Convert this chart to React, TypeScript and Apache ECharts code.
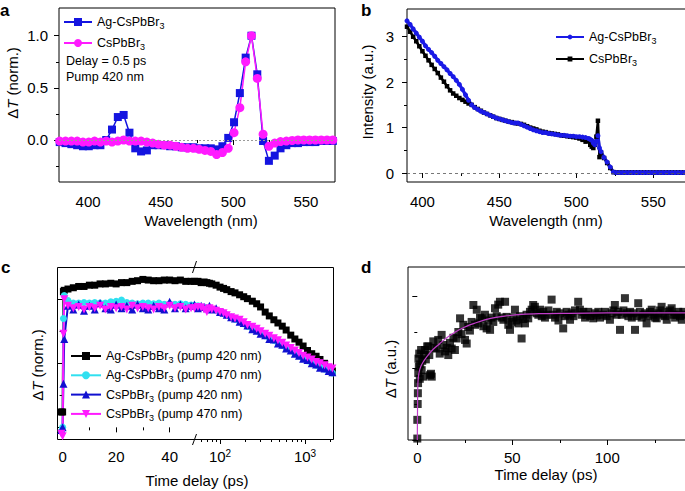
import { useEffect, useRef } from 'react';
import * as echarts from 'echarts';

const FONT = '"Liberation Sans", Arial, Helvetica, sans-serif';

// ---------- Panel a ----------
const aWavelength = [380.5, 384.5, 388.5, 392.5, 396.5, 400.5, 404.5, 408.5, 412.5, 416.5, 420.5, 424.5,
  428.5, 432.5, 436.5, 440.5, 444.5, 448.5, 452.5, 456.5, 460.5, 464.5, 468.5, 472.5,
  476.5, 480.5, 484.5, 488.5, 492.5, 496.5, 500.5, 504.5, 508.5, 512.5, 516.5, 520.5,
  524.5, 528.5, 532.5, 536.5, 540.5, 544.5, 548.5, 552.5, 556.5, 560.5, 564.5, 568.5];
const aAg = [-0.02, -0.03, -0.04, -0.05, -0.06, -0.06, -0.05, -0.05, 0.0, 0.10, 0.22, 0.24,
  0.07, -0.08, -0.11, -0.10, -0.05, -0.05, -0.05, -0.06, -0.06, -0.07, -0.07, -0.07,
  -0.08, -0.08, -0.08, -0.09, -0.06, 0.02, 0.17, 0.45, 0.79, 1.0, 0.63, -0.01,
  -0.20, -0.15, -0.08, -0.05, -0.03, -0.03, -0.02, -0.02, -0.02, -0.01, -0.01, -0.01];
const aCs = [-0.01, -0.01, -0.01, -0.01, -0.02, -0.02, -0.01, -0.02, -0.01, -0.02, -0.01, 0.0,
  -0.01, -0.01, -0.01, -0.02, -0.03, -0.04, -0.05, -0.05, -0.06, -0.07, -0.08, -0.08,
  -0.09, -0.10, -0.11, -0.14, -0.12, -0.08, 0.07, 0.31, 0.75, 1.0, 0.59, 0.055,
  -0.06, -0.03, -0.015, -0.01, -0.005, 0, 0, 0, 0, 0, 0, 0];
const aXTicks = [400, 450, 500, 550];
const aXMinor = [425, 475, 525];
const aYTicks = [0, 0.5, 1.0];
const aYMinor = [-0.25, 0.25, 0.75];

// ---------- Panel b ----------
const bWavelength = [390, 392, 394, 396, 398, 400, 402, 404, 406, 408,
  410, 412, 414, 416, 418, 420, 422, 424, 426, 428,
  430, 432, 434, 436, 438, 440, 442, 444, 446, 448,
  450, 452, 454, 456, 458, 460, 462, 464, 466, 468,
  470, 472, 474, 476, 478, 480, 482, 484, 486, 488,
  490, 492, 494, 496, 498, 500, 502, 504, 506, 508,
  509, 510, 511, 512, 513, 514, 515, 516,
  518, 520, 522, 524, 526, 528, 530, 532, 534, 536, 538, 540, 542, 544, 546, 548,
  550, 552, 554, 556, 558, 560, 562, 564, 566, 568, 570];
const bAg = [3.35, 3.27, 3.17, 3.08, 2.99, 2.90, 2.80, 2.72, 2.65, 2.57,
  2.48, 2.41, 2.34, 2.27, 2.19, 2.12, 2.04, 1.95, 1.84, 1.72,
  1.60, 1.50, 1.44, 1.40, 1.36, 1.33, 1.30, 1.27, 1.24, 1.21,
  1.19, 1.17, 1.15, 1.13, 1.11, 1.10, 1.10, 1.07, 1.04, 1.01,
  0.98, 0.95, 0.93, 0.91, 0.89, 0.89, 0.87, 0.86, 0.85, 0.84,
  0.83, 0.83, 0.82, 0.81, 0.81, 0.80, 0.80, 0.79, 0.78, 0.76,
  0.74, 0.72, 0.66, 0.62, 0.70, 0.82, 0.55, 0.47,
  0.34, 0.24, 0.13, 0.02, 0.01, 0.01, 0.01, 0.01, 0.01, 0.01, 0.01, 0.01, 0.01, 0.01, 0.01, 0.01,
  0.01, 0.01, 0.01, 0.01, 0.01, 0.01, 0.01, 0.01, 0.01, 0.01, 0.01];
const bCs = [3.22, 3.11, 3.00, 2.90, 2.79, 2.68, 2.58, 2.48, 2.38, 2.29,
  2.20, 2.10, 2.01, 1.91, 1.82, 1.75, 1.70, 1.65, 1.61, 1.57,
  1.53, 1.50, 1.45, 1.41, 1.37, 1.33, 1.30, 1.27, 1.24, 1.21,
  1.19, 1.17, 1.15, 1.13, 1.12, 1.10, 1.09, 1.08, 1.06, 1.03,
  1.00, 0.98, 0.96, 0.93, 0.91, 0.90, 0.88, 0.87, 0.86, 0.85,
  0.83, 0.82, 0.81, 0.80, 0.79, 0.78, 0.76, 0.73, 0.69, 0.71,
  0.62, 0.58, 0.55, 0.62, 0.80, 1.15, 0.35, 0.45,
  0.33, 0.22, 0.11, 0.02, 0.01, 0.01, 0.01, 0.01, 0.01, 0.01, 0.01, 0.01, 0.01, 0.01, 0.01, 0.01,
  0.01, 0.01, 0.01, 0.01, 0.01, 0.01, 0.01, 0.01, 0.01, 0.01, 0.01];
const bXTicks = [400, 450, 500, 550];
const bXMinor = [425, 475, 525];
const bYTicks = [0, 1, 2, 3];
const bYMinor = [0.5, 1.5, 2.5];

// ---------- Panel c ----------
const cLinTime = [-0.5, 0, 0.3, 0.6, 2, 4, 6, 8, 10, 12, 14, 16, 18, 20, 22, 24, 26, 28, 30, 32, 34, 36, 38, 40, 42, 44, 46, 48];
const cAg420Lin = [0.12, 0.12, 1.06, 1.07, 1.08, 1.09, 1.10, 1.10, 1.11, 1.11, 1.12, 1.12, 1.125, 1.12, 1.13, 1.13, 1.14, 1.145, 1.155, 1.15, 1.145, 1.145, 1.15, 1.15, 1.145, 1.15, 1.14, 1.14];
const cAg470Lin = [-0.03, 0.0, 0.85, 1.03, 0.99, 0.97, 0.97, 0.975, 0.97, 0.975, 0.97, 0.97, 0.98, 0.985, 0.995, 0.975, 0.97, 0.965, 0.97, 0.97, 0.965, 0.97, 0.96, 0.965, 0.96, 0.965, 0.96, 0.955];
const cCs420Lin = [-0.02, 0.0, 0.34, 0.69, 0.95, 0.92, 0.96, 0.91, 0.95, 0.92, 0.97, 0.93, 0.92, 0.96, 0.93, 0.95, 0.92, 0.96, 0.93, 0.92, 0.95, 0.93, 0.92, 0.98, 0.93, 0.96, 0.93, 0.95];
const cCs470Lin = [-0.05, -0.07, 0.73, 1.0, 0.95, 0.93, 0.94, 0.92, 0.94, 0.93, 0.95, 0.92, 0.94, 0.93, 0.94, 0.92, 0.95, 0.93, 0.94, 0.93, 0.92, 0.94, 0.93, 0.95, 0.93, 0.94, 0.92, 0.93];
const cLogTime = [50, 55, 60, 65, 70, 75, 80, 90, 100, 110, 120, 135, 150, 170, 190, 210, 240, 270, 300, 340,
  380, 430, 480, 540, 600, 680, 760, 850, 950, 1070, 1200, 1350, 1500, 1700, 1900, 2100];
const cAg420Log = [1.14, 1.14, 1.13, 1.135, 1.13, 1.125, 1.12, 1.11, 1.095, 1.085, 1.075, 1.06, 1.05, 1.035, 1.02, 1.005, 0.985, 0.965, 0.94, 0.90,
  0.87, 0.84, 0.815, 0.79, 0.76, 0.72, 0.69, 0.665, 0.635, 0.60, 0.575, 0.555, 0.53, 0.50, 0.465, 0.44];
const cAg470Log = [0.95, 0.95, 0.94, 0.94, 0.93, 0.93, 0.92, 0.915, 0.905, 0.89, 0.875, 0.86, 0.845, 0.83, 0.81, 0.79, 0.77, 0.755, 0.735, 0.715,
  0.70, 0.68, 0.66, 0.64, 0.62, 0.60, 0.58, 0.56, 0.54, 0.52, 0.50, 0.485, 0.47, 0.455, 0.44, 0.425];
const cCs420Log = [0.96, 0.93, 0.95, 0.94, 0.93, 0.95, 0.92, 0.93, 0.90, 0.895, 0.88, 0.86, 0.85, 0.825, 0.815, 0.795, 0.765, 0.755, 0.73, 0.72,
  0.69, 0.685, 0.655, 0.645, 0.615, 0.60, 0.575, 0.56, 0.535, 0.525, 0.50, 0.49, 0.465, 0.46, 0.44, 0.43];
const cCs470Log = [0.93, 0.94, 0.935, 0.92, 0.90, 0.93, 0.92, 0.91, 0.90, 0.89, 0.875, 0.86, 0.85, 0.84, 0.82, 0.80, 0.785, 0.77, 0.75, 0.73,
  0.715, 0.695, 0.68, 0.66, 0.64, 0.62, 0.60, 0.58, 0.56, 0.545, 0.53, 0.51, 0.50, 0.485, 0.47, 0.46];
const cLinTicks = [0, 20, 40];
const cLinMinor = [10, 30];
const cLogTicks = [100, 1000];
const cLogMinor = [60, 70, 80, 90, 200, 300, 400, 500, 600, 700, 800, 900, 2000];
const cYTicks = [0, 0.5, 1.0];
const cYMinor = [0.25, 0.75];

// ---------- Panel d ----------
const dScatter: [number, number][] = [
  [0, 0.02], [0, 0.28], [0.2, 0.5], [0.3, 0.65], [0.4, 0.79], [0.5, 0.93], [0.6, 1.13], [0.8, 1.02], [1, 1.2], [1.3, 0.85],
  [1.5, 1.05], [2, 1.25], [2.3, 0.97], [2.6, 1.1], [3.2, 0.88], [3.5, 1.18], [4, 1.25], [4.5, 1.12], [5.2, 1.3], [5.8, 1.3],
  [6.3, 1.18], [6.7, 0.9], [7.2, 0.92], [7.6, 0.88], [8.4, 1.37], [9, 1.28], [10.2, 1.27], [11, 1.39], [11.8, 1.2], [12.8, 1.46],
  [13.7, 1.32], [14.6, 1.23], [15.5, 1.28], [16.3, 1.18], [17.2, 1.35], [18.1, 1.27], [19, 1.42], [19.8, 1.25], [20.7, 1.41], [21.6, 1.5],
  [22.5, 1.69], [23.3, 1.47], [24.2, 1.6], [25.1, 1.39], [26, 1.34], [26.8, 1.57], [27.7, 1.52], [28.6, 1.64], [29.5, 1.875], [30.4, 1.6],
  [31.3, 1.81], [32.1, 1.62], [33, 1.7], [33.9, 1.69], [34.8, 1.58], [35.6, 1.74], [36.5, 1.55], [37.4, 1.66], [38.3, 1.53], [39.1, 1.7],
  [40, 1.64], [40.9, 1.83], [41.8, 1.72], [42.6, 1.88], [43.5, 1.92], [44.4, 1.7], [45.3, 1.67], [46.2, 1.92], [47, 1.71], [47.9, 1.6],
  [48.8, 1.53], [49.7, 1.64], [50.6, 1.7], [51.4, 1.81], [52.3, 1.66], [53.2, 1.62], [54.1, 1.72], [54.9, 1.41], [55.8, 1.68], [56.7, 1.62],
  [57.5, 1.74], [58.4, 1.69], [59.3, 1.78], [60.2, 1.81], [61, 1.875], [61.9, 1.85], [62.8, 1.76], [63.7, 1.74], [64.6, 1.81], [65.5, 1.72],
  [66.3, 1.78], [67.2, 1.7], [68, 1.74], [69, 1.8], [70.7, 1.95], [71.6, 1.74], [72.5, 1.7], [73.4, 1.78], [74.3, 1.66], [75.2, 1.76],
  [76.8, 1.55], [77.7, 1.72], [78.6, 1.78], [79.5, 1.74], [80.4, 1.67], [81.3, 1.76], [82.2, 1.72], [83, 1.8], [84.7, 1.92], [85.6, 1.81],
  [86.5, 1.74], [87.4, 1.78], [88.3, 1.7], [89.1, 1.74], [90, 1.78], [91, 1.72], [92.6, 1.69], [93.5, 1.76], [94.4, 1.73], [95.3, 1.78],
  [96.2, 1.7], [97.9, 1.74], [98.8, 1.78], [99.7, 1.72], [101.4, 1.67], [102.3, 1.76], [103.2, 1.8], [104, 1.875], [104.9, 1.74], [105.8, 1.78],
  [106.7, 1.53], [107.6, 1.74], [108.5, 1.8], [109.3, 1.97], [110.2, 1.76], [111.1, 1.72], [112, 1.78], [112.9, 1.7], [113.8, 1.76], [114.6, 1.53],
  [115.5, 1.72], [116.3, 1.9], [117.2, 1.78], [118.1, 1.7], [119, 1.74], [119.9, 1.76], [120.7, 1.62], [121.6, 1.72], [122.5, 1.78], [123.4, 1.81],
  [124.3, 1.74], [125.2, 1.7], [126, 1.69], [126.9, 1.76], [127.8, 1.8], [128.6, 1.85], [129.5, 1.74], [130.4, 1.72], [131.3, 1.67], [132.2, 1.78],
  [133, 1.8], [133.9, 1.83], [134.8, 1.74], [135.7, 1.7], [136.5, 1.74], [137.4, 1.78], [138.3, 1.72], [139.2, 1.67], [140.1, 1.78], [141, 1.74],
];
const dFitTime = [0, 0.15, 0.3, 0.6, 1, 2, 3, 4, 6, 8, 11, 15, 20, 25, 30, 37, 46, 55, 64, 80, 100, 120, 142];
const dFitValue = [0, 0.55, 0.78, 0.88, 0.95, 1.03, 1.08, 1.12, 1.19, 1.25, 1.32, 1.41, 1.5, 1.57, 1.62, 1.68, 1.72, 1.745, 1.755, 1.76, 1.765, 1.765, 1.765];
const dXTicks = [0, 50, 100];
const dXMinor = [25, 75, 125];
const dYTicks = [0, 1, 2];
const dYMinor = [0.5, 1.5];

const zip = (xs: number[], ys: number[]) => xs.map((x, i) => [x, ys[i]]);

const tickStyle = { color: '#000', width: 1 };
const labelBase = { color: '#000', fontSize: 15, fontFamily: FONT };

function axisPair(kind: 'x' | 'y', gridIndex: number, min: number, max: number, major: number[], minor: number[],
  label: any | null, type: string = 'value') {
  const position = kind === 'x' ? 'bottom' : 'left';
  const majorAxis: any = {
    type, gridIndex, min, max, position,
    axisLine: { show: false },
    splitLine: { show: false },
    axisTick: { show: true, customValues: major, length: 5, lineStyle: tickStyle },
    axisLabel: label ? { show: true, customValues: major, ...labelBase, ...label } : { show: false },
  };
  const minorAxis: any = {
    type, gridIndex, min, max, position,
    axisLine: { show: false },
    splitLine: { show: false },
    axisTick: { show: true, customValues: minor, length: 3, lineStyle: tickStyle },
    axisLabel: { show: false },
  };
  return [majorAxis, minorAxis];
}

const subRich = {
  s: { fontSize: 9, fontFamily: FONT, color: '#000', verticalAlign: 'bottom', padding: [8, 0, 0, 0] },
};
const legendFormatter = (name: string) => name.slice(2).replace('Br3', 'Br{s|3}');

const C_LOG_MIN = 49.4;
const C_LOG_MAX = 2135;

function buildOption(): any {
  const xAxis: any[] = [
    ...axisPair('x', 0, 380, 570, aXTicks, aXMinor, { margin: 12 }),
    ...axisPair('x', 1, 390, 572.5, bXTicks, bXMinor, { margin: 12 }),
    ...axisPair('x', 2, -2.1, 49.1, cLinTicks, cLinMinor, { margin: 10 }),
    { type: 'log', gridIndex: 3, min: C_LOG_MIN, max: C_LOG_MAX, logBase: 10, show: false },
    ...axisPair('x', 3, Math.log10(C_LOG_MIN), Math.log10(C_LOG_MAX), cLogTicks.map(Math.log10), cLogMinor.map(Math.log10), {
      margin: 9,
      formatter: (v: number) => '{b|10}{p|' + Math.round(v) + '}',
      rich: {
        b: { fontSize: 15, fontFamily: FONT, color: '#000' },
        p: { fontSize: 10, fontFamily: FONT, color: '#000', verticalAlign: 'top', padding: [0, 0, 7, 0] },
      },
    }),
    ...axisPair('x', 4, -4.9, 142.5, dXTicks, dXMinor, { margin: 10 }),
  ];
  const yAxis: any[] = [
    ...axisPair('y', 0, -0.403, 1.266, aYTicks, aYMinor, { margin: 11, formatter: (v: number) => v.toFixed(1) }),
    ...axisPair('y', 1, -0.198, 3.61, bYTicks, bYMinor, { margin: 13 }),
    ...axisPair('y', 2, -0.091, 1.252, cYTicks, cYMinor, null),
    { type: 'value', gridIndex: 3, min: -0.091, max: 1.252, show: false },
    ...axisPair('y', 4, 0, 2.403, dYTicks, dYMinor, null),
  ];
  const gridBase = { show: true, borderColor: '#000', borderWidth: 1, backgroundColor: 'transparent', containLabel: false, outerBoundsMode: 'none' };
  const grid = [
    { ...gridBase, left: 59, top: 8, width: 276, height: 174 },
    { ...gridBase, left: 407, top: 9, width: 281, height: 173 },
    { ...gridBase, show: false, left: 57, top: 267, width: 137, height: 172 },
    { ...gridBase, show: false, left: 194, top: 267, width: 139, height: 172 },
    { ...gridBase, left: 408, top: 267, width: 280, height: 173 },
  ];

  const BLUE_A = '#1414e0';
  const MAG = '#ff1aff';
  const BLUE_B = '#1a1ae6';
  const CYAN = '#30e0f0';
  const BLUE_C = '#1010d0';

  const lineSeries = (name: string, xi: number, yi: number, data: any[], color: string, symbol: string, size: number, width: number, extra: any = {}) => ({
    type: 'line', name, xAxisIndex: xi, yAxisIndex: yi, data, symbol, symbolSize: size,
    itemStyle: { color }, lineStyle: { color, width }, silent: true, emphasis: { disabled: true }, ...extra,
  });

  const cNames = ['c_Ag-CsPbBr3 (pump 420 nm)', 'c_Ag-CsPbBr3 (pump 470 nm)', 'c_CsPbBr3 (pump 420 nm)', 'c_CsPbBr3 (pump 470 nm)'];
  const cStyles = [
    { color: '#000', symbol: 'rect', size: 7, extra: {} },
    { color: CYAN, symbol: 'circle', size: 7, extra: {} },
    { color: BLUE_C, symbol: 'triangle', size: 8, extra: {} },
    { color: MAG, symbol: 'triangle', size: 8, extra: { symbolRotate: 180 } },
  ];
  const cLin = [cAg420Lin, cAg470Lin, cCs420Lin, cCs470Lin];
  const cLog = [cAg420Log, cAg470Log, cCs420Log, cCs470Log];
  const cSeries: any[] = [];
  cNames.forEach((n, i) => {
    const st = cStyles[i];
    cSeries.push(lineSeries(n, 4, 4, zip(cLinTime, cLin[i]), st.color, st.symbol, st.size, 2, st.extra));
    cSeries.push(lineSeries(n, 6, 6, zip(cLogTime, cLog[i]), st.color, st.symbol, st.size, 2, st.extra));
  });

  const series: any[] = [
    lineSeries('a_Ag-CsPbBr3', 0, 0, zip(aWavelength, aAg), BLUE_A, 'rect', 8, 1.5, {
      markLine: {
        silent: true, symbol: ['none', 'none'], label: { show: false },
        lineStyle: { color: '#9a9a9a', type: [2, 2], width: 1 }, data: [{ yAxis: 0 }],
      },
    }),
    lineSeries('a_CsPbBr3', 0, 0, zip(aWavelength, aCs), MAG, 'circle', 9, 1.5),
    lineSeries('b_CsPbBr3', 2, 2, zip(bWavelength, bCs), '#000', 'rect', 4.5, 2.5, {
      markLine: {
        silent: true, symbol: ['none', 'none'], label: { show: false },
        lineStyle: { color: '#555', type: [3, 3], width: 0.8 }, data: [{ yAxis: 0 }],
      },
    }),
    lineSeries('b_Ag-CsPbBr3', 2, 2, zip(bWavelength, bAg), BLUE_B, 'circle', 5, 3.2),
    ...cSeries,
    {
      type: 'scatter', name: 'd_data', xAxisIndex: 9, yAxisIndex: 7, data: dScatter, symbol: 'rect', symbolSize: 8,
      itemStyle: { color: '#000' }, silent: true, emphasis: { disabled: true },
    },
    {
      type: 'line', name: 'd_fit', xAxisIndex: 9, yAxisIndex: 7, data: zip(dFitTime, dFitValue), symbol: 'none',
      smooth: 0.3, lineStyle: { color: '#c03cc8', width: 1.2 }, itemStyle: { color: '#c03cc8' }, silent: true,
    },
  ];

  const legendBase = {
    orient: 'vertical', padding: 0, selectedMode: false, formatter: legendFormatter,
    textStyle: { fontSize: 12.5, fontFamily: FONT, color: '#000', rich: subRich },
  };
  const legend = [
    { ...legendBase, data: ['a_Ag-CsPbBr3', 'a_CsPbBr3'], left: 63, top: 15.5, itemWidth: 28, itemHeight: 10, itemGap: 6 },
    { ...legendBase, data: ['b_Ag-CsPbBr3', 'b_CsPbBr3'], left: 555, top: 30.5, itemWidth: 28, itemHeight: 6, itemGap: 7 },
    { ...legendBase, data: cNames, left: 70, top: 349.5, itemWidth: 30, itemHeight: 10, itemGap: 4.3 },
  ];

  const txt = (text: string, x: number, y: number, opts: any = {}) => ({
    type: 'text', x, y, silent: true,
    style: { text, fontSize: 15, fontFamily: FONT, fill: '#000', align: 'center', verticalAlign: 'middle', ...opts },
  });
  const vtxt = (text: string, x: number, y: number) => ({
    type: 'text', x, y, rotation: Math.PI / 2, silent: true,
    style: {
      text, fontSize: 15, fontFamily: FONT, fill: '#000', align: 'center', verticalAlign: 'middle',
      rich: {
        n: { fontSize: 15, fontFamily: FONT, color: '#000' },
        i: { fontSize: 15, fontFamily: FONT, color: '#000', fontStyle: 'italic' },
      },
    },
  });
  const letter = (text: string, x: number, y: number) => txt(text, x, y, { fontSize: 17, fontWeight: 'bold', align: 'left', verticalAlign: 'bottom' });

  const graphic = [
    letter('a', 0, 19), letter('b', 361, 19), letter('c', 1, 276), letter('d', 361, 276),
    vtxt('{n|Δ}{i|T}{n| (norm.)}', 12, 83),
    vtxt('Intensity (a.u.)', 367.5, 92),
    vtxt('{n|Δ}{i|T}{n| (norm.)}', 37.5, 365),
    vtxt('{n|Δ}{i|T}{n| (a.u.)}', 390, 369),
    txt('Wavelength (nm)', 201, 220),
    txt('Wavelength (nm)', 546, 220),
    txt('Time delay (ps)', 197, 480.7),
    txt('Time delay (ps)', 546, 474),
    txt('Delay = 0.5 ps', 66, 61, { fontSize: 12.5, align: 'left' }),
    txt('Pump 420 nm', 66, 77, { fontSize: 12.5, align: 'left' }),
    {
      type: 'rect', silent: true, shape: { x: 57.5, y: 267.5, width: 276, height: 172 },
      style: { fill: 'none', stroke: '#000', lineWidth: 1 },
    },
    { type: 'line', silent: true, shape: { x1: 192.5, y1: 273, x2: 196.5, y2: 261 }, style: { stroke: '#000', lineWidth: 1 } },
    { type: 'line', silent: true, shape: { x1: 192.5, y1: 445, x2: 196.5, y2: 434 }, style: { stroke: '#000', lineWidth: 1 } },
  ];

  return {
    animation: false,
    backgroundColor: '#fff',
    textStyle: { fontFamily: FONT },
    grid, xAxis, yAxis, series, legend, graphic,
  };
}

export default function App() {
  const ref = useRef<HTMLDivElement | null>(null);
  useEffect(() => {
    if (!ref.current) return;
    const chart = echarts.init(ref.current, null, { renderer: 'svg' });
    chart.setOption(buildOption());
    return () => chart.dispose();
  }, []);
  return <div ref={ref} style={{ position: 'absolute', left: 0, top: 0, width: 685, height: 491 }} />;
}
